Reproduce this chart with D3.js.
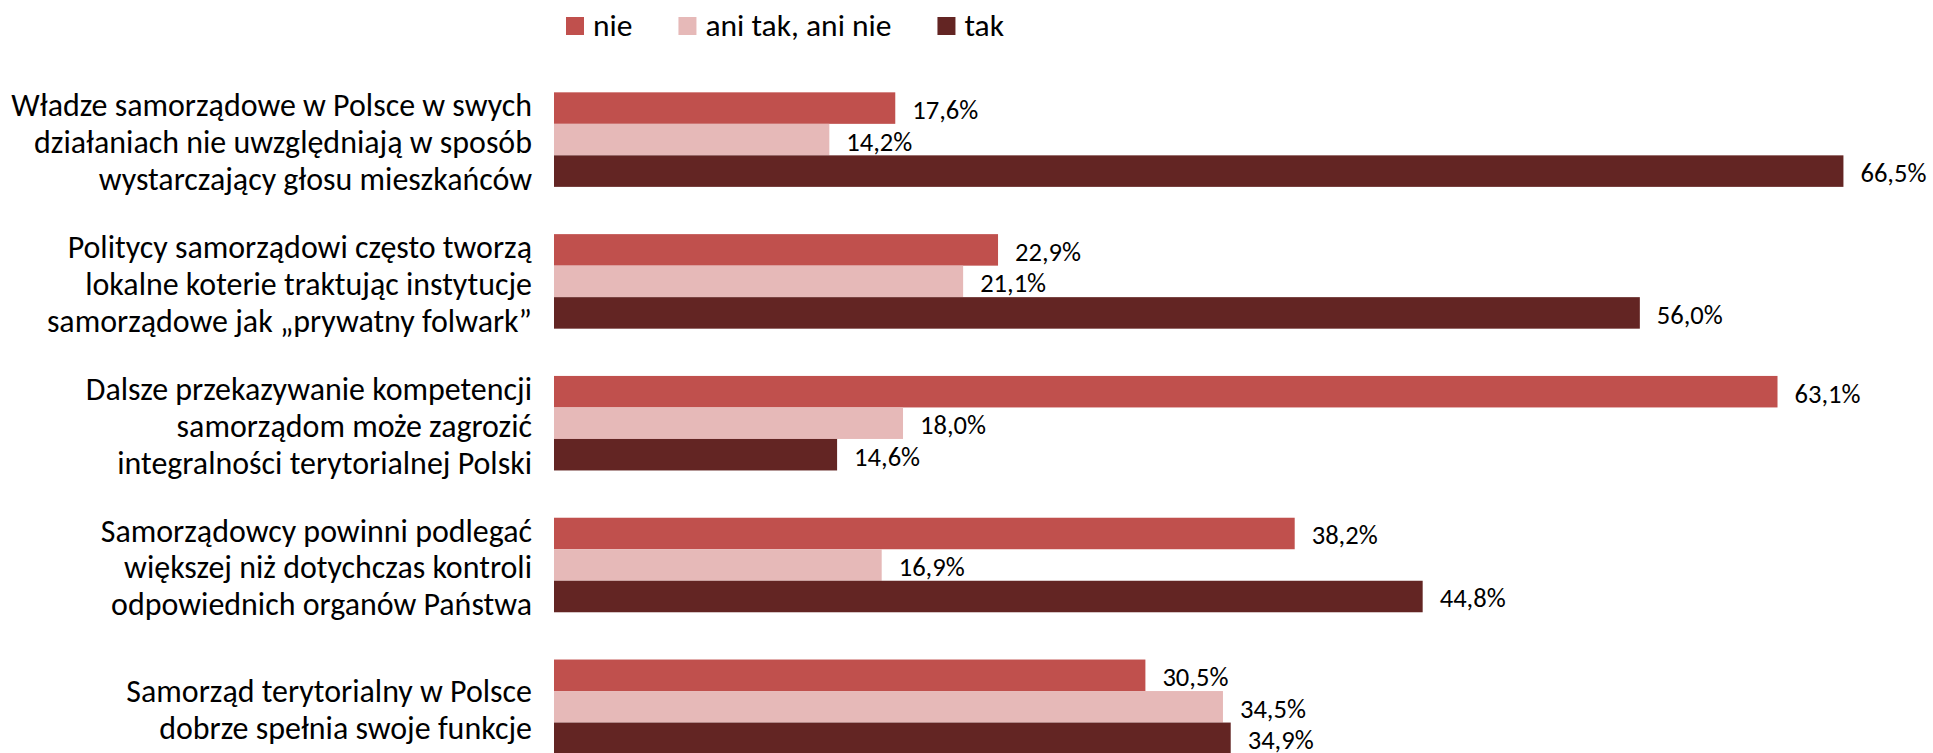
<!DOCTYPE html>
<html>
<head>
<meta charset="utf-8">
<script src="https://cdn.jsdelivr.net/npm/d3@7"></script>
<style>
  html, body { margin: 0; padding: 0; background: #fff; overflow: hidden; }
  svg { display: block; }
  text { font-family: Carlito, Calibri, Lato, "Open Sans", sans-serif; fill: #000; }
</style>
</head>
<body>
<svg id="chart" width="1933" height="753"></svg>
<script>
// ---- data ----
const categories = [
  ["Władze samorządowe w Polsce w swych", "działaniach nie uwzględniają w sposób", "wystarczający głosu mieszkańców"],
  ["Politycy samorządowi często tworzą", "lokalne koterie traktując instytucje", "samorządowe jak „prywatny folwark”"],
  ["Dalsze przekazywanie kompetencji", "samorządom może zagrozić", "integralności terytorialnej Polski"],
  ["Samorządowcy powinni podlegać", "większej niż dotychczas kontroli", "odpowiednich organów Państwa"],
  ["Samorząd terytorialny w Polsce", "dobrze spełnia swoje funkcje"]
];
const seriesNames = ["nie", "ani tak, ani nie", "tak"];
const nieValues = [17.6, 22.9, 63.1, 38.2, 30.5];
const aniValues = [14.2, 21.1, 18.0, 16.9, 34.5];
const takValues = [66.5, 56.0, 14.6, 44.8, 34.9];
const seriesColors = ["#C0504D", "#E6B9B8", "#632523"];

const series = [nieValues, aniValues, takValues];

const svg = d3.select("#chart");

// font fitting helper
function measure(str, size) {
  const t = svg.append("text").attr("font-size", size).text(str);
  const w = t.node().getComputedTextLength();
  t.remove();
  return w;
}
const catSize = 100 * 521 / measure(categories[0][0], 100);
const valSize = 100 * 66 / measure("63,1%", 100);
const legSize = 100 * 186 / measure("ani tak, ani nie", 100);

// ---- scales ----
const x = d3.scaleLinear().domain([0, 70]).range([554, 554 + 70 * 19.39]);
const y0 = d3.scaleBand()
  .domain(d3.range(categories.length))
  .range([68.7, 68.7 + 5 * 141.8])
  .paddingInner(1 / 3)
  .paddingOuter(1 / 6);
const y1 = d3.scaleBand()
  .domain(d3.range(seriesNames.length))
  .range([0, y0.bandwidth()]);

const fmt = v => d3.format(".1f")(v).replace(".", ",") + "%";

// ---- bars ----
const groups = svg.append("g").selectAll("g")
  .data(categories)
  .join("g")
  .attr("transform", (d, i) => `translate(0,${y0(i)})`);

groups.selectAll("rect")
  .data((d, i) => series.map((s, j) => ({ v: s[i], j })))
  .join("rect")
  .attr("x", x(0))
  .attr("y", d => y1(d.j))
  .attr("width", d => x(d.v) - x(0))
  .attr("height", y1.bandwidth())
  .attr("fill", d => seriesColors[d.j]);

groups.selectAll("text.val")
  .data((d, i) => series.map((s, j) => ({ v: s[i], j })))
  .join("text")
  .attr("class", "val")
  .attr("x", d => x(d.v) + 17)
  .attr("y", d => y1(d.j) + y1.bandwidth() / 2 + 2)
  .attr("dominant-baseline", "central")
  .attr("font-size", valSize)
  .text(d => fmt(d.v));

// ---- category labels ----
const lineH = 37;
groups.append("text")
  .attr("text-anchor", "end")
  .attr("font-size", catSize)
  .selectAll("tspan")
  .data(d => d.map((line, k) => ({ line, k, n: d.length })))
  .join("tspan")
  .attr("x", x(0) - 22)
  .attr("y", d => y0.bandwidth() / 2 + 3 + (d.k - (d.n - 1) / 2) * lineH)
  .attr("dominant-baseline", "central")
  .text(d => d.line);

// ---- legend ----
const legend = svg.append("g");
let lx = 566;
seriesNames.forEach((name, j) => {
  legend.append("rect")
    .attr("x", lx).attr("y", 17)
    .attr("width", 18).attr("height", 18)
    .attr("fill", seriesColors[j]);
  const t = legend.append("text")
    .attr("x", lx + 27).attr("y", 36)
    .attr("font-size", legSize)
    .text(name);
  lx += 27 + t.node().getComputedTextLength() + 46;
});
</script>
</body>
</html>
